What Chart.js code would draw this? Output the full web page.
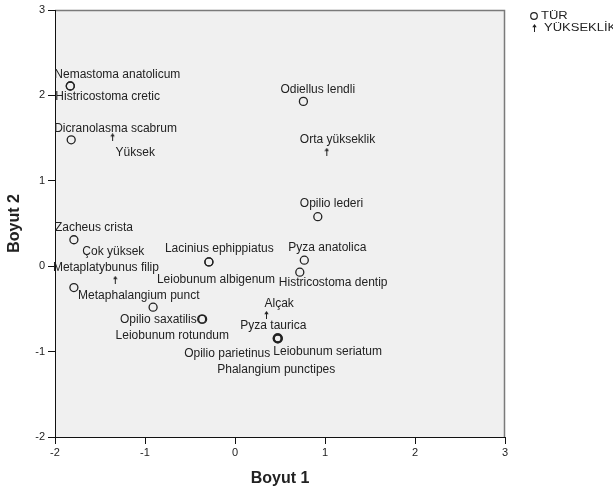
<!DOCTYPE html>
<html>
<head>
<meta charset="utf-8">
<style>
  html, body { margin: 0; padding: 0; background: #ffffff; }
  #wrap { width: 613px; height: 494px; }
</style>
<script src="https://cdn.jsdelivr.net/npm/chart.js@4/dist/chart.umd.min.js"></script>
</head>
<body>
<div id="wrap"><canvas id="c" width="613" height="494"></canvas></div>
<script>
// Species (TÜR) coordinates on the two dimensions
const turLabels = [
  'Nemastoma anatolicum', 'Histricostoma cretic', 'Dicranolasma scabrum',
  'Odiellus lendli', 'Opilio lederi', 'Zacheus crista',
  'Lacinius ephippiatus', 'Leiobunum albigenum', 'Pyza anatolica',
  'Histricostoma dentip', 'Metaplatybunus filip', 'Metaphalangium punct',
  'Opilio saxatilis', 'Leiobunum rotundum', 'Pyza taurica',
  'Opilio parietinus', 'Leiobunum seriatum', 'Phalangium punctipes'
];
const turX = [-1.83, -1.83, -1.82, 0.76, 0.92, -1.79, -0.29, -0.29, 0.77, 0.72, -1.79, -0.91, -0.37, -0.36, 0.47, 0.48, 0.47, 0.48];
const turY = [2.11, 2.11, 1.48, 1.93, 0.58, 0.31, 0.05, 0.05, 0.07, -0.07, -0.25, -0.48, -0.62, -0.62, -0.84, -0.85, -0.85, -0.84];

// Altitude classes (YÜKSEKLİK)
const yukLabels = ['Yüksek', 'Çok yüksek', 'Alçak', 'Orta yükseklik'];
const yukX = [-1.36, -1.33, 0.35, 1.02];
const yukY = [1.51, -0.16, -0.57, 1.34];

// Axes
const axisMin = -2;
const axisMax = 3;
const xTitle = 'Boyut 1';
const yTitle = 'Boyut 2';
const seriesNames = ['TÜR', 'YÜKSEKLİK'];

// Label placement around each marker: [dx, dy, align] in pixels
const turLabelPlace = [
  [-16, -11, 'left'], [-15, 11, 'left'], [-17, -11, 'left'],
  [-23, -12, 'left'], [-18, -13, 'left'], [-19, -12, 'left'],
  [-44, -13, 'left'], [-52, 18, 'left'], [-16, -13, 'left'],
  [-21, 11, 'left'], [-21, -20, 'left'], [-75, -12, 'left'],
  [-5, 1, 'right'], [-87, 17, 'left'], [-37, -12, 'left'],
  [-94, 15, 'left'], [-4, 13, 'left'], [-61, 32, 'left']
];
const yukLabelPlace = [
  [3, 15, 'left'], [-33, -28, 'left'], [-2, -11, 'left'], [-27, -12, 'left']
];

const FONT = '"Liberation Sans", Arial, sans-serif';
const INK = '#222222';

// Small upward arrow marker
function makeArrow() {
  const cv = document.createElement('canvas');
  cv.width = 5; cv.height = 8;
  const g = cv.getContext('2d');
  g.fillStyle = INK;
  g.strokeStyle = INK;
  g.lineWidth = 1;
  g.beginPath();
  g.moveTo(0.3, 3.2); g.lineTo(2.5, 0); g.lineTo(4.7, 3.2); g.closePath();
  g.fill();
  g.beginPath();
  g.moveTo(2.5, 2); g.lineTo(2.5, 8);
  g.stroke();
  return cv;
}
const arrowImg = makeArrow();

function pts(xs, ys) { return xs.map((x, i) => ({ x: x, y: ys[i] })); }

const plotBackground = {
  id: 'plotBackground',
  beforeDraw(chart) {
    const { ctx, chartArea: a } = chart;
    ctx.save();
    ctx.fillStyle = '#f0f0f0';
    ctx.fillRect(a.left, a.top, a.right - a.left, a.bottom - a.top);
    ctx.strokeStyle = '#7a7a7a';
    ctx.lineWidth = 1.5;
    ctx.beginPath();
    ctx.moveTo(a.left, a.top + 0.5);
    ctx.lineTo(a.right - 0.5, a.top + 0.5);
    ctx.lineTo(a.right - 0.5, a.bottom);
    ctx.stroke();
    ctx.restore();
  }
};

const pointLabels = {
  id: 'pointLabels',
  afterDatasetsDraw(chart) {
    const { ctx } = chart;
    const sets = [[turLabels, turLabelPlace], [yukLabels, yukLabelPlace]];
    ctx.save();
    ctx.font = '12px ' + FONT;
    ctx.fillStyle = INK;
    ctx.textBaseline = 'middle';
    sets.forEach((s, di) => {
      const meta = chart.getDatasetMeta(di);
      meta.data.forEach((el, i) => {
        const p = s[1][i];
        ctx.textAlign = p[2];
        ctx.fillText(s[0][i], el.x + p[0], el.y + p[1]);
      });
    });
    ctx.restore();
  }
};

const sideLegend = {
  id: 'sideLegend',
  afterDraw(chart) {
    const { ctx } = chart;
    const rows = [
      { y: 16, textX: 541 },
      { y: 28, textX: 544 }
    ];
    ctx.save();
    chart.data.datasets.forEach((ds, i) => {
      const r = rows[i];
      if (i === 0) {
        ctx.strokeStyle = INK;
        ctx.lineWidth = 1.2;
        ctx.beginPath();
        ctx.arc(534, r.y, 3.3, 0, Math.PI * 2);
        ctx.stroke();
      } else {
        ctx.drawImage(arrowImg, 532, r.y - 4);
      }
      ctx.save();
      ctx.translate(r.textX, r.y);
      ctx.scale(1.3, 1);
      ctx.font = '10px ' + FONT;
      ctx.fillStyle = INK;
      ctx.textBaseline = 'middle';
      ctx.textAlign = 'left';
      ctx.fillText(ds.label, 0, 0.5);
      ctx.restore();
    });
    ctx.restore();
  }
};

const axisCommon = {
  type: 'linear',
  min: axisMin,
  max: axisMax,
  z: 1,
  border: { display: true, color: '#111111', width: 1 },
  grid: { display: true, drawOnChartArea: false, drawTicks: true, tickLength: 7, color: '#111111', lineWidth: 1 }
};

new Chart(document.getElementById('c'), {
  type: 'scatter',
  data: {
    datasets: [
      {
        label: seriesNames[0],
        data: pts(turX, turY),
        pointStyle: 'circle',
        pointRadius: 4,
        borderWidth: 1.3,
        borderColor: INK,
        backgroundColor: 'rgba(0,0,0,0)'
      },
      {
        label: seriesNames[1],
        data: pts(yukX, yukY),
        pointStyle: arrowImg,
        pointRadius: 4,
        borderColor: INK,
        backgroundColor: INK
      }
    ]
  },
  options: {
    responsive: false,
    animation: false,
    devicePixelRatio: 1,
    layout: { padding: { left: 0, right: 108, top: 10, bottom: 0 } },
    plugins: {
      legend: { display: false },
      tooltip: { enabled: false }
    },
    scales: {
      x: Object.assign({}, axisCommon, {
        position: 'bottom',
        ticks: { stepSize: 1, padding: 2, color: INK, font: { family: FONT, size: 11 } },
        title: { display: true, text: xTitle, color: INK, font: { family: FONT, size: 16, weight: 'bold' }, padding: { top: 0, bottom: 5.5 } },
        afterFit(scale) { scale.height = 57; }
      }),
      y: Object.assign({}, axisCommon, {
        position: 'left',
        ticks: { stepSize: 1, padding: 3, color: INK, font: { family: FONT, size: 11 } },
        title: { display: true, text: yTitle, color: INK, font: { family: FONT, size: 16, weight: 'bold' }, padding: { top: 4.5, bottom: 0 } },
        afterFit(scale) { scale.width = 55; }
      })
    }
  },
  plugins: [plotBackground, pointLabels, sideLegend]
});
</script>
</body>
</html>
